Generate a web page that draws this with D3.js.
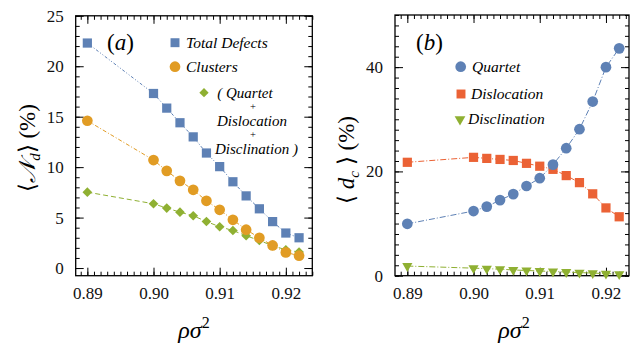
<!DOCTYPE html>
<html>
<head>
<meta charset="utf-8">
<script src="https://cdn.jsdelivr.net/npm/d3@7"></script>
<style>
  html, body { margin: 0; padding: 0; background: #fff; }
  svg { display: block; }
</style>
</head>
<body>
<svg id="chart" width="631" height="347"></svg>
<script>
// Density values (x axis) shared by both panels
const density = [0.89, 0.90, 0.902, 0.904, 0.906, 0.908, 0.910, 0.912, 0.914, 0.916, 0.918, 0.920, 0.922];

// Panel (a): defect populations (%)
const totalDefects = [22.3, 17.3, 15.85, 14.4, 13.0, 11.4, 10.05, 8.55, 7.15, 5.87, 4.6, 3.47, 3.0];
const clusters     = [14.6, 10.7, 9.63, 8.64, 7.75, 6.66, 5.77, 4.78, 3.8, 3.0, 2.24, 1.55, 1.22];
const combined     = [7.52, 6.37, 5.94, 5.54, 5.18, 4.61, 4.09, 3.72, 3.2, 2.73, 2.21, 1.81, 1.58];

// Panel (b): cluster composition (%)
const quartet      = [9.95, 12.4, 13.25, 14.5, 15.65, 17.2, 18.7, 21.3, 24.45, 28.1, 33.4, 40.0, 43.6];
const dislocation  = [21.75, 22.7, 22.5, 22.3, 22.1, 21.55, 21.0, 20.4, 19.2, 17.85, 15.7, 13.0, 11.3];
const disclination = [1.85, 1.45, 1.35, 1.25, 1.1, 1.0, 0.9, 0.8, 0.7, 0.6, 0.5, 0.4, 0.3];

// Tick values
const xMajor  = [0.89, 0.90, 0.91, 0.92];
const xMinor  = d3.range(0.888, 0.9241, 0.001).map(v => +v.toFixed(3));
const yMajorA = [0, 5, 10, 15, 20, 25];
const yMinorA = d3.range(0, 26, 1);
const yMajorB = [0, 20, 40];
const yMinorB = d3.range(0, 51, 2);

const colors = {
  blue:   "#5E81B5",
  orange: "#E19C24",
  green:  "#8FB032",
  red:    "#EB6235"
};

const svg = d3.select("#chart");

function panel(opts) {
  const { x, y, yMajor, yMinor } = opts;
  const g = svg.append("g");
  const [x0, x1] = x.range();
  const [y0, y1] = y.range();
  const inX = xMinor.filter(v => v >= x.domain()[0] && v <= x.domain()[1]);

  const tickStyle = sel => {
    sel.attr("font-family", null);
    sel.select(".domain").remove();
    sel.selectAll("line").attr("stroke", "#000").attr("stroke-width", 1);
    sel.selectAll("text").attr("font-size", 17).attr("fill", "#111");
  };

  // minor ticks
  g.append("g").attr("transform", `translate(0,${y0})`)
    .call(d3.axisBottom(x).tickValues(inX).tickSize(-4).tickFormat(""))
    .call(tickStyle);
  g.append("g").attr("transform", `translate(0,${y1})`)
    .call(d3.axisTop(x).tickValues(inX).tickSize(-4).tickFormat(""))
    .call(tickStyle);
  g.append("g").attr("transform", `translate(${x0},0)`)
    .call(d3.axisLeft(y).tickValues(yMinor).tickSize(-4).tickFormat(""))
    .call(tickStyle);
  g.append("g").attr("transform", `translate(${x1},0)`)
    .call(d3.axisRight(y).tickValues(yMinor).tickSize(-4).tickFormat(""))
    .call(tickStyle);

  // major ticks with labels
  g.append("g").attr("transform", `translate(0,${y0})`)
    .call(d3.axisBottom(x).tickValues(xMajor).tickSize(-8).tickPadding(11).tickFormat(d3.format(".2f")))
    .call(tickStyle);
  g.append("g").attr("transform", `translate(0,${y1})`)
    .call(d3.axisTop(x).tickValues(xMajor).tickSize(-8).tickFormat(""))
    .call(tickStyle);
  g.append("g").attr("transform", `translate(${x0},0)`)
    .call(d3.axisLeft(y).tickValues(yMajor).tickSize(-8).tickPadding(12).tickFormat(d3.format("d")))
    .call(tickStyle);
  g.append("g").attr("transform", `translate(${x1},0)`)
    .call(d3.axisRight(y).tickValues(yMajor).tickSize(-8).tickFormat(""))
    .call(tickStyle);

  // frame
  g.append("rect")
    .attr("x", x0).attr("y", y1)
    .attr("width", x1 - x0).attr("height", y0 - y1)
    .attr("fill", "none").attr("stroke", "#000").attr("stroke-width", 1.3);

  return g;
}

function series(g, x, y, values, color, dash, marker, size) {
  const pts = density.map((d, i) => [d, values[i]]);
  g.append("path")
    .datum(pts)
    .attr("d", d3.line().x(d => x(d[0])).y(d => y(d[1])))
    .attr("fill", "none")
    .attr("stroke", color)
    .attr("stroke-width", 1)
    .attr("stroke-dasharray", dash);
  g.selectAll(null).data(pts).join("path")
    .attr("transform", d => `translate(${x(d[0])},${y(d[1])})`)
    .attr("d", d3.symbol().type(marker).size(size))
    .attr("fill", color);
}

const triDown = {
  draw(ctx, size) {
    const s = Math.sqrt(size * 4 / Math.sqrt(3));
    const h = s * Math.sqrt(3) / 2;
    ctx.moveTo(-s / 2, -h / 3);
    ctx.lineTo(s / 2, -h / 3);
    ctx.lineTo(0, 2 * h / 3);
    ctx.closePath();
  }
};

// ---------- Panel (a) ----------
const xA = d3.scaleLinear().domain([0.88824, 0.9240]).range([75.7, 312.3]);
const yA = d3.scaleLinear().domain([-0.76, 25]).range([275.7, 15.8]);
const gA = panel({ x: xA, y: yA, yMajor: yMajorA, yMinor: yMinorA });

series(gA, xA, yA, combined, colors.green, "5,3", d3.symbolDiamond2, 60);
series(gA, xA, yA, clusters, colors.orange, "4,2,1,2", d3.symbolCircle, 90);
series(gA, xA, yA, totalDefects, colors.blue, "3,2,1,2,1,2", d3.symbolSquare, 85);

// panel label
svg.append("text").attr("x", 107).attr("y", 50)
  .attr("font-size", 23)
  .html('(<tspan font-style="italic">a</tspan>)');

// legend (a)
const legA = svg.append("g").attr("font-style", "italic").attr("font-size", 15.5);
legA.append("path").attr("transform", "translate(175,42.7)")
  .attr("d", d3.symbol().type(d3.symbolSquare).size(80)).attr("fill", colors.blue);
legA.append("text").attr("x", 186).attr("y", 47.8).text("Total Defects");
legA.append("path").attr("transform", "translate(175,66.7)")
  .attr("d", d3.symbol().type(d3.symbolCircle).size(90)).attr("fill", colors.orange);
legA.append("text").attr("x", 186).attr("y", 71.8).text("Clusters");
legA.append("path").attr("transform", "translate(204,92.7)")
  .attr("d", d3.symbol().type(d3.symbolDiamond2).size(55)).attr("fill", colors.green);

// stacked legend entry for the combined count
const comboLines = ["( Quartet", "+", "Dislocation", "+", "Disclination )"];
const comboX     = [245, 253, 252, 253, 256.5];
const comboY     = [97.8, 110.2, 125.8, 138.2, 153.8];
comboLines.forEach((t, i) => {
  const plus = t === "+";
  legA.append("text").attr("x", comboX[i]).attr("y", comboY[i])
    .attr("text-anchor", "middle")
    .attr("font-size", plus ? 10.5 : 15)
    .attr("font-style", plus ? "normal" : "italic")
    .text(t);
});

// axis titles (a)
svg.append("text")
  .attr("transform", "translate(35,148) rotate(-90)")
  .attr("text-anchor", "middle").attr("font-size", 23)
  .html('⟨<tspan font-style="italic">𝒩</tspan><tspan font-style="italic" font-size="15" dy="5">d</tspan><tspan dy="-5">⟩ (%)</tspan>');
svg.append("text")
  .attr("x", 194).attr("y", 338)
  .attr("text-anchor", "middle").attr("font-size", 24)
  .html('<tspan font-style="italic">ρσ</tspan><tspan font-size="16" dy="-10">2</tspan>');

// ---------- Panel (b) ----------
const xB = d3.scaleLinear().domain([0.88814, 0.92348]).range([395, 629]);
const yB = d3.scaleLinear().domain([0, 50]).range([275.7, 15]);
const gB = panel({ x: xB, y: yB, yMajor: yMajorB, yMinor: yMinorB });

series(gB, xB, yB, disclination, colors.green, "6,2,1,2", triDown, 45);
series(gB, xB, yB, dislocation, colors.red, "6,2,1,2", d3.symbolSquare, 85);
series(gB, xB, yB, quartet, colors.blue, "6,2,1,2", d3.symbolCircle, 90);

svg.append("text").attr("x", 416).attr("y", 50)
  .attr("font-size", 23)
  .html('(<tspan font-style="italic">b</tspan>)');

// legend (b)
const legB = svg.append("g").attr("font-style", "italic").attr("font-size", 15.5);
legB.append("path").attr("transform", "translate(460.7,66.7)")
  .attr("d", d3.symbol().type(d3.symbolCircle).size(90)).attr("fill", colors.blue);
legB.append("text").attr("x", 472).attr("y", 71.8).text("Quartet");
legB.append("path").attr("transform", "translate(461,94)")
  .attr("d", d3.symbol().type(d3.symbolSquare).size(80)).attr("fill", colors.red);
legB.append("text").attr("x", 471).attr("y", 99).text("Dislocation");
legB.append("path").attr("transform", "translate(460,119.3)")
  .attr("d", d3.symbol().type(triDown).size(50)).attr("fill", colors.green);
legB.append("text").attr("x", 468).attr("y", 124.3).text("Disclination");

// axis titles (b)
svg.append("text")
  .attr("transform", "translate(354,160) rotate(-90)")
  .attr("text-anchor", "middle").attr("font-size", 23)
  .html('⟨ <tspan font-style="italic">d</tspan><tspan font-style="italic" font-size="15" dy="5">c</tspan><tspan dy="-5"> ⟩ (%)</tspan>');
svg.append("text")
  .attr("x", 514).attr("y", 338)
  .attr("text-anchor", "middle").attr("font-size", 24)
  .html('<tspan font-style="italic">ρσ</tspan><tspan font-size="16" dy="-10">2</tspan>');

// Times-style serif face for every label
svg.selectAll("text").style("font-family", '"Liberation Serif"');
</script>
</body>
</html>
